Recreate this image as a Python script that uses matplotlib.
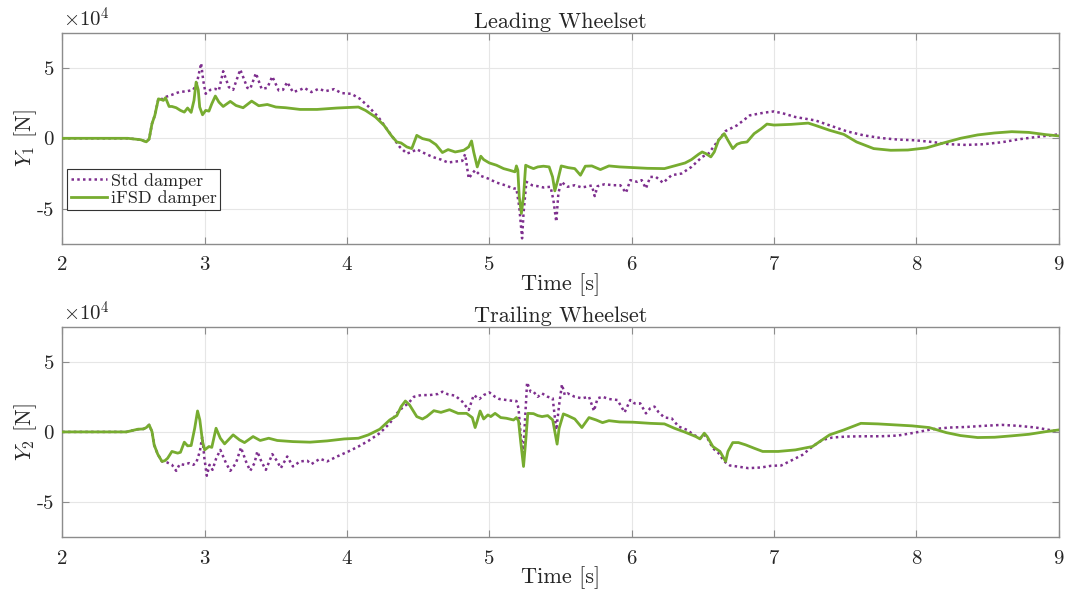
import matplotlib
matplotlib.use("Agg")
import matplotlib.pyplot as plt
import numpy as np

plt.rcParams['font.family'] = ['cmr10', 'DejaVu Serif']
plt.rcParams['mathtext.fontset'] = 'cm'
plt.rcParams['axes.unicode_minus'] = False
plt.rcParams['axes.formatter.use_mathtext'] = True

# Lateral wheel-rail force, in units of 1e4 N
# ---- Leading wheelset ----
t1_ifsd = [2.0, 2.46, 2.55, 2.59, 2.61, 2.63, 2.65, 2.675, 2.695, 2.71, 2.725, 2.75, 2.77, 2.80, 2.83,
           2.857, 2.88, 2.905, 2.925, 2.94, 2.955, 2.965, 2.985, 3.007, 3.03, 3.05, 3.075, 3.10, 3.13,
           3.18, 3.22, 3.27, 3.33, 3.38, 3.44, 3.50, 3.57, 3.67, 3.79, 3.93, 4.08, 4.13, 4.20, 4.26,
           4.31, 4.35, 4.38, 4.42, 4.455, 4.49, 4.53, 4.58, 4.625, 4.67, 4.71, 4.76, 4.82, 4.855,
           4.875, 4.89, 4.915, 4.94, 4.96, 5.0, 5.05, 5.10, 5.14, 5.18, 5.19, 5.20, 5.21, 5.225, 5.24,
           5.255, 5.28, 5.31, 5.34, 5.38, 5.42, 5.444, 5.46, 5.48, 5.505, 5.553, 5.60, 5.64, 5.674,
           5.72, 5.78, 5.84, 5.915, 6.01, 6.11, 6.23, 6.30, 6.375, 6.42, 6.47, 6.495, 6.52, 6.556,
           6.58, 6.61, 6.65, 6.676, 6.71, 6.74, 6.77, 6.81, 6.86, 6.91, 6.95, 7.0, 7.12, 7.24, 7.29,
           7.39, 7.49, 7.58, 7.70, 7.82, 7.94, 8.07, 8.19, 8.31, 8.43, 8.55, 8.67, 8.79, 8.91, 9.0]
y1_ifsd = [0.0, 0.0, -0.1, -0.25, -0.05, 1.04, 1.63, 2.8, 2.75, 2.69, 2.88, 2.26, 2.26, 2.17, 1.98,
           1.86, 2.15, 1.84, 2.69, 3.99, 3.44, 2.22, 1.67, 1.98, 1.93, 2.45, 3.0, 2.57, 2.26,
           2.62, 2.33, 2.17, 2.64, 2.31, 2.4, 2.22, 2.17, 2.05, 2.05, 2.15, 2.22, 1.98, 1.51, 0.92,
           0.21, -0.26, -0.33, -0.61, -0.73, 0.21, -0.02, -0.14, -0.45, -1.01, -0.80, -0.97, -0.85, -0.61,
           -0.19, -0.97, -2.03, -1.27, -1.51, -1.75, -1.91, -2.15, -2.26, -2.38, -1.96, -2.26, -4.15, -5.33, -4.15,
           -1.91, -2.03, -2.15, -2.03, -1.98, -2.03, -2.74, -3.73, -3.0, -1.96, -2.08, -2.15, -2.62, -1.98,
           -1.96, -2.22, -1.96, -2.03, -2.08, -2.13, -2.15, -1.96, -1.75, -1.51, -1.13, -0.97, -1.08, -1.32,
           -0.97, -0.14, 0.33, -0.14, -0.73, -0.42, -0.31, -0.26, 0.33, 0.68, 1.01, 0.94, 0.99, 1.08, 0.92,
           0.57, 0.28, -0.26, -0.73, -0.85, -0.83, -0.68, -0.33, 0.0, 0.24, 0.38, 0.47, 0.42, 0.26, 0.17]

t1_std = [2.0, 2.46, 2.55, 2.59, 2.61, 2.63, 2.65, 2.675, 2.695, 2.71, 2.77, 2.82, 2.88, 2.92, 2.945,
          2.975, 2.99, 3.007, 3.04, 3.075, 3.10, 3.13, 3.17, 3.20, 3.25, 3.30, 3.32, 3.36, 3.40, 3.44,
          3.475, 3.52, 3.55, 3.58, 3.62, 3.67, 3.70, 3.75, 3.80, 3.85, 3.91, 3.96, 4.03, 4.09, 4.15,
          4.22, 4.27, 4.32, 4.37, 4.42, 4.455, 4.49, 4.54, 4.60, 4.66, 4.71, 4.76, 4.81, 4.83, 4.855,
          4.88, 4.90, 4.94, 4.99, 5.05, 5.11, 5.17, 5.19, 5.21, 5.23, 5.24, 5.26, 5.30, 5.34, 5.38,
          5.43, 5.45, 5.47, 5.485, 5.505, 5.55, 5.60, 5.65, 5.72, 5.74, 5.76, 5.81, 5.87, 5.92, 5.96,
          5.99, 6.04, 6.07, 6.10, 6.13, 6.17, 6.22, 6.28, 6.35, 6.42, 6.495, 6.54, 6.60, 6.66, 6.74,
          6.83, 6.93, 7.0, 7.07, 7.15, 7.22, 7.29, 7.39, 7.51, 7.63, 7.75, 7.87, 7.99, 8.11, 8.23,
          8.35, 8.47, 8.60, 8.72, 8.84, 9.0]
y1_std = [0.0, 0.0, -0.1, -0.25, -0.05, 1.04, 1.63, 2.8, 2.75, 2.88, 3.09, 3.28, 3.35, 3.44, 3.9,
          5.33, 4.1, 3.16, 3.44, 3.51, 3.4, 4.76, 3.63, 3.44, 4.88, 3.58, 3.51, 4.62, 3.51, 3.58,
          4.39, 3.40, 3.44, 3.99, 3.28, 3.44, 3.58, 3.28, 3.51, 3.35, 3.49, 3.21, 3.16, 2.81, 2.26,
          1.51, 0.8, 0.09, -0.61, -1.08, -0.97, -0.78, -1.04, -1.32, -1.51, -1.72, -1.65, -1.6, -1.13, -2.85,
          -2.5, -2.26, -2.67, -2.85, -3.14, -3.33, -3.56, -3.56, -4.86, -7.10, -5.33, -3.09, -3.33, -3.4, -3.49,
          -3.44, -4.39, -5.92, -3.9, -3.09, -3.44, -3.33, -3.49, -3.35, -4.1, -3.4, -3.26, -3.33, -3.33, -3.87,
          -2.97, -3.09, -2.97, -3.56, -2.74, -2.74, -3.16, -2.62, -2.5, -2.03, -1.32, -1.08, -0.26, 0.52, 0.92,
          1.63, 1.82, 1.91, 1.75, 1.51, 1.39, 1.27, 0.92, 0.50, 0.21, 0.02, -0.09, -0.14, -0.26, -0.42,
          -0.47, -0.42, -0.28, -0.07, 0.09, 0.28]

# ---- Trailing wheelset ----
t2_ifsd = [2.0, 2.45, 2.48, 2.53, 2.57, 2.59, 2.61, 2.63, 2.645, 2.67, 2.70, 2.72, 2.74, 2.77, 2.81,
           2.83, 2.857, 2.88, 2.905, 2.93, 2.95, 2.966, 2.985, 3.0, 3.03, 3.05, 3.08, 3.11, 3.14, 3.20,
           3.245, 3.28, 3.34, 3.39, 3.45, 3.51, 3.62, 3.74, 3.86, 3.98, 4.08, 4.15, 4.23, 4.30, 4.35,
           4.38, 4.41, 4.44, 4.49, 4.53, 4.56, 4.61, 4.66, 4.72, 4.78, 4.84, 4.88, 4.90, 4.915, 4.935,
           4.96, 4.99, 5.01, 5.04, 5.08, 5.12, 5.17, 5.19, 5.205, 5.22, 5.24, 5.255, 5.27, 5.31, 5.34,
           5.37, 5.41, 5.445, 5.46, 5.476, 5.49, 5.52, 5.55, 5.60, 5.65, 5.70, 5.75, 5.795, 5.84, 5.915,
           6.01, 6.13, 6.23, 6.30, 6.375, 6.45, 6.48, 6.51, 6.53, 6.57, 6.62, 6.66, 6.676, 6.71, 6.75,
           6.80, 6.86, 6.92, 7.03, 7.15, 7.27, 7.39, 7.49, 7.61, 7.73, 7.85, 7.97, 8.09, 8.21, 8.31,
           8.43, 8.55, 8.67, 8.79, 8.91, 9.0]
y2_ifsd = [0.0, 0.0, 0.07, 0.19, 0.21, 0.31, 0.5, 0.02, -0.92, -1.58, -2.10, -2.05, -1.87, -1.39, -1.51,
           -1.45, -0.73, -0.99, -0.97, 0.26, 1.49, 0.85, -0.69, -1.28, -1.04, -1.1, 0.26, -0.45, -0.85, -0.21,
           -0.57, -0.76, -0.33, -0.61, -0.45, -0.61, -0.69, -0.73, -0.64, -0.5, -0.45, -0.21, 0.19, 0.85, 1.16,
           1.8, 2.2, 1.91, 1.09, 0.92, 1.09, 1.51, 1.39, 1.58, 1.32, 1.32, 1.02, 0.31, 0.78, 1.49,
           0.92, 1.21, 1.09, 1.32, 1.02, 0.97, 0.85, 1.02, 0.78, -0.69, -2.46, -0.69, 1.32, 1.30, 1.16,
           1.09, 1.16, 0.85, 0.02, -0.87, 0.26, 1.28, 1.16, 0.92, 0.31, 1.02, 0.85, 0.66, 0.80, 0.71,
           0.69, 0.61, 0.57, 0.26, -0.02, -0.33, -0.5, -0.09, -0.33, -1.04, -1.39, -2.10, -1.39, -0.76, -0.76,
           -0.92, -1.16, -1.39, -1.39, -1.28, -1.04, -0.21, 0.14, 0.61, 0.57, 0.5, 0.43, 0.31, -0.05, -0.26,
           -0.4, -0.38, -0.28, -0.17, 0.02, 0.14]

t2_std = [2.0, 2.45, 2.48, 2.53, 2.57, 2.59, 2.61, 2.63, 2.645, 2.67, 2.70, 2.735, 2.77, 2.80, 2.825,
          2.857, 2.89, 2.92, 2.94, 2.966, 2.983, 2.998, 3.015, 3.034, 3.055, 3.08, 3.11, 3.15, 3.18, 3.22,
          3.255, 3.29, 3.32, 3.35, 3.37, 3.40, 3.43, 3.475, 3.51, 3.535, 3.58, 3.62, 3.67, 3.72, 3.75,
          3.81, 3.86, 3.93, 4.01, 4.08, 4.15, 4.23, 4.30, 4.35, 4.39, 4.43, 4.47, 4.52, 4.58, 4.64,
          4.67, 4.71, 4.76, 4.81, 4.855, 4.89, 4.93, 4.96, 5.0, 5.04, 5.07, 5.12, 5.17, 5.19, 5.205,
          5.22, 5.24, 5.245, 5.265, 5.29, 5.31, 5.34, 5.37, 5.41, 5.445, 5.47, 5.49, 5.51, 5.53, 5.55,
          5.60, 5.65, 5.70, 5.735, 5.76, 5.795, 5.84, 5.90, 5.95, 5.99, 6.02, 6.06, 6.10, 6.13, 6.16,
          6.19, 6.23, 6.28, 6.33, 6.39, 6.43, 6.48, 6.51, 6.53, 6.57, 6.61, 6.65, 6.69, 6.74, 6.82,
          6.91, 6.98, 7.05, 7.13, 7.20, 7.27, 7.34, 7.41, 7.51, 7.63, 7.75, 7.87, 7.99, 8.11, 8.23,
          8.35, 8.47, 8.60, 8.72, 8.84, 8.935, 9.0]
y2_std = [0.0, 0.0, 0.07, 0.19, 0.21, 0.31, 0.5, 0.02, -0.92, -1.58, -2.10, -2.17, -2.34, -2.77, -2.29,
          -2.34, -2.22, -2.34, -2.22, -1.39, -0.33, -1.87, -3.12, -2.34, -2.7, -1.91, -1.28, -2.22, -2.77, -2.22,
          -1.11, -2.1, -2.77, -2.22, -1.39, -2.15, -2.7, -1.58, -2.1, -2.58, -1.75, -2.46, -2.1, -2.05, -2.29,
          -1.91, -2.1, -1.75, -1.39, -1.04, -0.64, -0.09, 0.61, 1.32, 1.73, 2.03, 2.5, 2.62, 2.62, 2.7,
          2.86, 2.67, 2.58, 2.15, 1.56, 2.62, 2.34, 2.62, 2.81, 2.5, 2.34, 2.27, 2.2, 2.2, 1.68,
          -0.21, -1.51, -0.21, 3.52, 2.86, 2.86, 2.5, 2.74, 2.5, 2.39, 0.14, 1.91, 3.38, 2.62, 2.74,
          2.5, 2.39, 2.5, 1.49, 2.39, 2.5, 2.34, 2.27, 1.39, 2.27, 2.03, 2.03, 1.32, 1.68, 1.8,
          1.39, 1.02, 0.97, 0.38, 0.14, -0.17, -0.45, -0.21, -0.40, -1.16, -1.51, -2.10, -2.39, -2.46, -2.58,
          -2.53, -2.41, -2.39, -1.99, -1.63, -1.04, -0.57, -0.4, -0.33, -0.31, -0.31, -0.26, -0.05, 0.19, 0.31,
          0.35, 0.43, 0.5, 0.43, 0.31, 0.14, 0.02]

titles = ["Leading Wheelset", "Trailing Wheelset"]
ylabels = [r"$Y_1$ [N]", r"$Y_2$ [N]"]
legend_labels = ["Std damper", "iFSD damper"]
xticks = [2, 3, 4, 5, 6, 7, 8, 9]
yticks = [-5, 0, 5]

STD_COLOR = "#7E2F8E"
IFSD_COLOR = "#77AC30"
SPINE = "#8c8c8c"
TEXT = "#262626"

fig = plt.figure(figsize=(10.69, 5.99), dpi=100)
ax_top = fig.add_axes([0.0583, 0.5927, 0.9321, 0.3528])
ax_bot = fig.add_axes([0.0583, 0.1030, 0.9321, 0.3519])

series = [(ax_top, t1_std, y1_std, t1_ifsd, y1_ifsd),
          (ax_bot, t2_std, y2_std, t2_ifsd, y2_ifsd)]

for i, (ax, ts, ys, tf, yf) in enumerate(series):
    ax.plot(ts, ys, color=STD_COLOR, lw=1.8, linestyle=(0, (1, 1.3)),
            label=legend_labels[0], zorder=3)
    ax.plot(tf, yf, color=IFSD_COLOR, lw=2.0, label=legend_labels[1], zorder=4)
    ax.set_xlim(2, 9)
    ax.set_ylim(-7.5, 7.5)
    ax.set_xticks(xticks)
    ax.set_xticklabels([str(v) for v in xticks])
    ax.set_yticks(yticks)
    ax.set_yticklabels([str(v) for v in yticks])
    ax.grid(True, color="#e6e6e6", lw=0.8)
    ax.set_axisbelow(True)
    ax.tick_params(direction="in", length=5, width=0.8, color=SPINE, labelcolor=TEXT,
                   top=True, right=True, labelsize=15)
    ax.tick_params(axis="x", pad=9)
    ax.tick_params(axis="y", pad=6)
    for s in ax.spines.values():
        s.set_color(SPINE)
        s.set_linewidth(1.0)
    ax.set_title(titles[i], fontsize=16, pad=3, color=TEXT)
    ax.set_xlabel("Time [s]", fontsize=16, labelpad=-1, color=TEXT)
    ax.set_ylabel(ylabels[i], fontsize=16, labelpad=-2, color=TEXT)
    ax.text(0.001, 1.008, r"$\times10^{4}$", transform=ax.transAxes, fontsize=15,
            ha="left", va="bottom", color=TEXT)
    if i == 0:
        leg = ax.legend(loc="lower left", bbox_to_anchor=(0.005, 0.161), borderaxespad=0,
                        fontsize=13, frameon=True, fancybox=False, framealpha=1,
                        edgecolor="#333333", handlelength=2.0, handletextpad=0.2,
                        borderpad=0.2, labelspacing=0.1)
        leg.get_frame().set_linewidth(0.8)
        for txt in leg.get_texts():
            txt.set_color(TEXT)

fig.savefig("out.png", dpi=100)
